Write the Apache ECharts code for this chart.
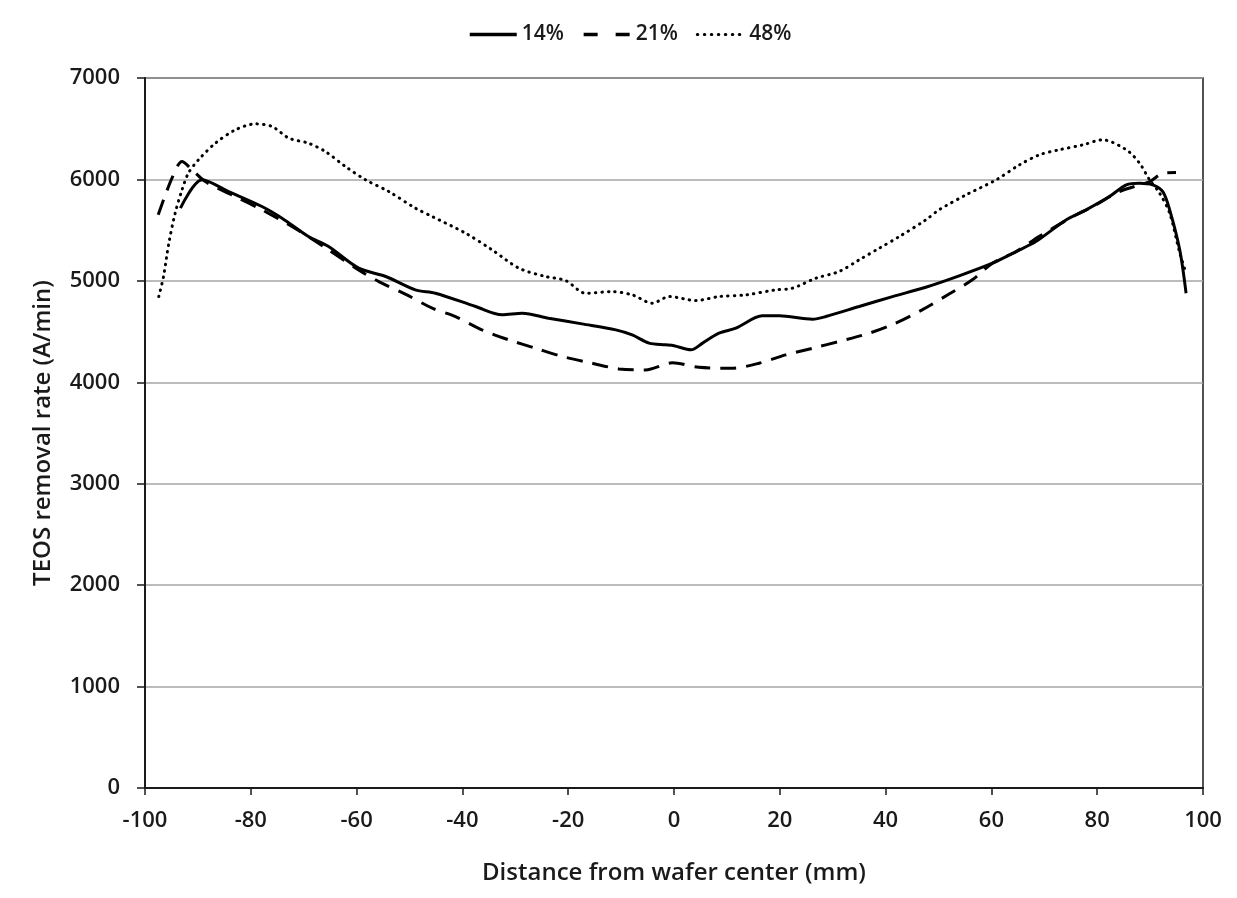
<!DOCTYPE html>
<html>
<head>
<meta charset="utf-8">
<script src="https://cdn.jsdelivr.net/npm/echarts@6/dist/echarts.min.js"></script>
<style>
  html, body { margin: 0; padding: 0; background: #fff; }
  #main { width: 1237px; height: 898px; }
</style>
</head>
<body>
<div id="main"></div>
<script>
// 14%
var x14 = [-93.3, -89.2, -84.2, -77.9, -74.1, -69.1, -65.3, -59.6, -54.5, -48.9, -45.1, -37.5, -32.5, -28.7, -23.7, -17.4, -11, -7.9, -4.7, -1.6, 0, 3.2, 5.4, 8.5, 11.7, 16.7, 19.9, 26.2, 28.7, 35, 41.3, 47.6, 53.9, 60.2, 64.7, 68.4, 74.1, 77.9, 82.3, 85.5, 88, 90.5, 92.4, 93.7, 95.6, 96.8];
var y14 = [5717, 5996, 5880, 5733, 5618, 5437, 5338, 5125, 5043, 4911, 4878, 4747, 4665, 4681, 4632, 4576, 4517, 4467, 4386, 4369, 4360, 4320, 4386, 4484, 4534, 4655, 4655, 4622, 4648, 4747, 4845, 4937, 5049, 5174, 5289, 5387, 5601, 5700, 5831, 5947, 5963, 5947, 5880, 5700, 5306, 4878];
// 21%
var x21 = [-97.5, -94.9, -93, -91.4, -88.6, -83.6, -78.5, -72, -66, -60, -55.8, -50.8, -45.7, -41.3, -36.3, -31.2, -26.2, -21.1, -15.5, -10.4, -5.4, -0.3, 4.7, 11, 16.1, 21.1, 26.2, 31.2, 36.9, 41.9, 46.9, 52, 56.4, 60.2, 64.7, 69, 75.4, 79.2, 84.2, 89.9, 92.4, 94.9];
var y21 = [5651, 6013, 6177, 6111, 5979, 5848, 5717, 5530, 5330, 5120, 4993, 4870, 4731, 4648, 4517, 4418, 4336, 4254, 4188, 4132, 4122, 4192, 4148, 4139, 4188, 4270, 4336, 4402, 4484, 4583, 4714, 4870, 5010, 5174, 5289, 5437, 5634, 5733, 5880, 5979, 6060, 6068];
// 48%
var x48 = [-97.4, -96.5, -95.5, -94.3, -93, -91.8, -89.9, -86.7, -82.9, -79.1, -76, -72.8, -69.1, -65.9, -62.1, -58.3, -53.9, -48.9, -45.7, -39.4, -34.4, -29.3, -24.3, -20.5, -16.7, -11.7, -7.9, -4.1, -0.9, 4.1, 8.5, 13.6, 19.2, 22.4, 26.8, 31.2, 35, 38.8, 42.6, 47.6, 50.1, 55.2, 60.9, 65.3, 69.1, 72.8, 77.3, 81, 85.5, 88, 89.9, 91.8, 93.7, 95.6, 96.8];
var y48 = [4845, 5043, 5371, 5667, 5897, 6062, 6193, 6357, 6489, 6548, 6522, 6407, 6357, 6275, 6127, 5996, 5880, 5717, 5634, 5470, 5306, 5125, 5043, 5003, 4878, 4894, 4862, 4780, 4845, 4806, 4845, 4862, 4911, 4928, 5026, 5092, 5207, 5322, 5437, 5601, 5700, 5848, 5996, 6144, 6243, 6292, 6341, 6391, 6292, 6161, 5996, 5864, 5667, 5276, 5076];

var seriesNames = ['14%', '21%', '48%'];

function pairs(xs, ys) {
  var out = [];
  for (var i = 0; i < xs.length; i++) {
    out.push([xs[i], ys[i]]);
  }
  return out;
}

var font = 'Open Sans';
var txtColor = '#1a1a1a';
var solidStyle = { color: '#000', width: 3, type: 'solid' };
var dashStyle = { color: '#000', width: 3, type: [16, 10] };
var dotStyle = { color: '#000', width: 3, type: [0.5, 6], cap: 'round' };

var myChart = echarts.init(document.getElementById('main'));
var option = {
  animation: false,
  backgroundColor: '#fff',
  legend: {
    top: 19,
    left: 463,
    itemWidth: 47,
    itemHeight: 12,
    itemGap: 18,
    itemStyle: { opacity: 0 },
    textStyle: { fontFamily: font, fontSize: 21, fontWeight: 600, color: txtColor },
    data: [
      { name: seriesNames[0], lineStyle: { color: '#000', width: 3.5, type: 'solid' } },
      { name: seriesNames[1], lineStyle: { color: '#000', width: 3.5, type: [14, 18] } },
      { name: seriesNames[2], lineStyle: { color: '#000', width: 3, type: [0.5, 6.5], cap: 'round' } }
    ]
  },
  grid: {
    left: 145,
    right: 34,
    top: 78,
    bottom: 110,
    show: true,
    borderColor: '#1a1a1a',
    borderWidth: 1.5
  },
  xAxis: {
    type: 'value',
    min: -100,
    max: 100,
    interval: 20,
    name: 'Distance from wafer center (mm)',
    nameLocation: 'middle',
    nameGap: 73,
    nameTextStyle: { fontFamily: font, fontSize: 24, fontWeight: 600, color: txtColor },
    axisLine: { onZero: false, lineStyle: { color: '#1a1a1a', width: 2 } },
    axisTick: { show: true, inside: false, length: 7, lineStyle: { color: '#1a1a1a', width: 1.5 } },
    axisLabel: { fontFamily: font, fontSize: 22, fontWeight: 600, color: txtColor, margin: 22 },
    splitLine: { show: false }
  },
  yAxis: {
    type: 'value',
    min: 0,
    max: 7000,
    interval: 1000,
    name: 'TEOS removal rate (A/min)',
    nameLocation: 'middle',
    nameGap: 90,
    nameTextStyle: { fontFamily: font, fontSize: 24, fontWeight: 600, color: txtColor },
    axisLine: { show: true, onZero: false, lineStyle: { color: '#1a1a1a', width: 2 } },
    axisTick: { show: true, inside: false, length: 8, lineStyle: { color: '#1a1a1a', width: 1.5 } },
    axisLabel: {
      fontFamily: font, fontSize: 22, fontWeight: 600, color: txtColor, margin: 25,
      formatter: function (v) { return String(v); }
    },
    splitLine: { show: true, lineStyle: { color: '#a6a6a6', width: 1.5 } }
  },
  series: [
    {
      name: seriesNames[0],
      type: 'line',
      smooth: 0.3,
      symbol: 'none',
      color: '#000',
      lineStyle: solidStyle,
      data: pairs(x14, y14)
    },
    {
      name: seriesNames[1],
      type: 'line',
      smooth: 0.3,
      symbol: 'none',
      color: '#000',
      lineStyle: dashStyle,
      data: pairs(x21, y21)
    },
    {
      name: seriesNames[2],
      type: 'line',
      smooth: 0.3,
      symbol: 'none',
      color: '#000',
      lineStyle: dotStyle,
      data: pairs(x48, y48)
    }
  ]
};

// 为echarts对象加载数据
myChart.setOption(option);
</script>
</body>
</html>
